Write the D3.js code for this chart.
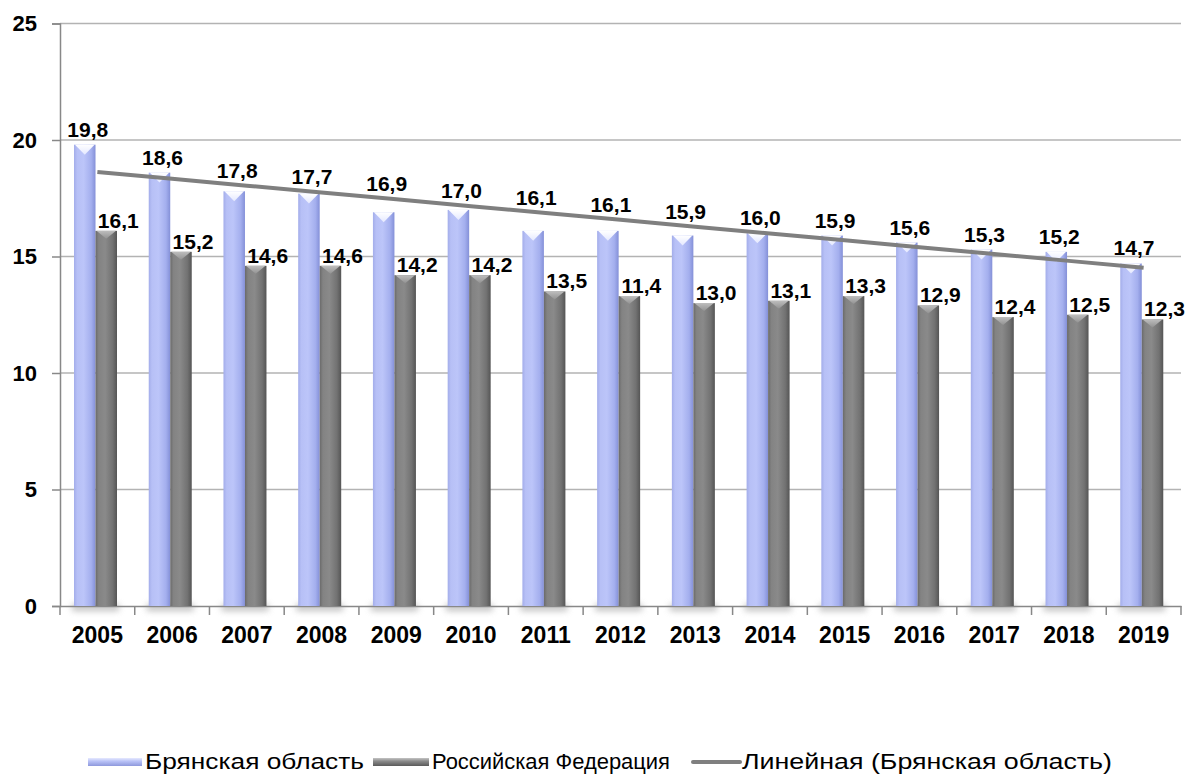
<!DOCTYPE html>
<html>
<head>
<meta charset="utf-8">
<script src="https://cdn.jsdelivr.net/npm/d3@7"></script>
<style>
  body { margin: 0; background: #fff; }
  svg { display: block; font-family: "Liberation Sans", Arial, sans-serif; }
</style>
</head>
<body>
<div id="chart"></div>
<script>
const years = ["2005","2006","2007","2008","2009","2010","2011","2012","2013","2014","2015","2016","2017","2018","2019"];
const bryansk = [19.8, 18.6, 17.8, 17.7, 16.9, 17.0, 16.1, 16.1, 15.9, 16.0, 15.9, 15.6, 15.3, 15.2, 14.7];
const russia = [16.1, 15.2, 14.6, 14.6, 14.2, 14.2, 13.5, 13.3, 13.0, 13.1, 13.3, 12.9, 12.4, 12.5, 12.3];
const russiaLabels = ["16,1","15,2","14,6","14,6","14,2","14,2","13,5","11,4","13,0","13,1","13,3","12,9","12,4","12,5","12,3"];
const yTicks = [0, 5, 10, 15, 20, 25];
const legendNames = ["Брянская область", "Российская Федерация", "Линейная (Брянская область)"];

const width = 1192, height = 775;
const plotLeft = 60, plotRight = 1181, plotTop = 23.5, plotBottom = 606;

const svg = d3.select("#chart").append("svg")
  .attr("width", width)
  .attr("height", height);

const defs = svg.append("defs");

function gradient(id, stops, x2, y2) {
  const g = defs.append("linearGradient").attr("id", id)
    .attr("x1", 0).attr("y1", 0).attr("x2", x2).attr("y2", y2);
  stops.forEach(s => g.append("stop").attr("offset", s[0]).attr("stop-color", s[1]));
}
gradient("gBr", [[0, "#a3adea"], [0.15, "#b7c0f6"], [0.45, "#bcc5f9"], [0.8, "#a4afee"], [1, "#8490d8"]], 1, 0);
gradient("gRu", [[0, "#6a6a6a"], [0.15, "#838383"], [0.45, "#8a8a8a"], [0.8, "#727272"], [1, "#555555"]], 1, 0);
gradient("gBrTop", [[0, "#ffffff"], [1, "#e4e8ff"]], 0, 1);
gradient("gRuTop", [[0, "#bdbdbd"], [1, "#929292"]], 0, 1);
gradient("gBrV", [[0, "#e6e9ff"], [0.4, "#b9c2f7"], [1, "#8e99dc"]], 0, 1);
gradient("gRuV", [[0, "#c4c4c4"], [0.4, "#8a8a8a"], [1, "#5a5a5a"]], 0, 1);

defs.append("filter").attr("id", "blur")
  .attr("x", "-50%").attr("y", "-200%").attr("width", "200%").attr("height", "500%")
  .append("feGaussianBlur").attr("stdDeviation", 3);

const x0 = d3.scaleBand().domain(years).range([plotLeft, plotRight]).padding(0);
const x1 = d3.scaleBand().domain([0, 1]).range([14, 57]);
const y = d3.scaleLinear().domain([0, 25]).range([plotBottom, plotTop]);

// линии сетки
svg.append("g")
  .selectAll("line")
  .data(yTicks.filter(d => d > 0))
  .join("line")
  .attr("x1", plotLeft).attr("x2", plotRight)
  .attr("y1", d => y(d)).attr("y2", d => y(d))
  .attr("stroke", "#b3b3b3").attr("stroke-width", 1.3);

// ось Y
const yAxis = svg.append("g")
  .attr("transform", `translate(${plotLeft},0)`)
  .call(d3.axisLeft(y).tickValues(yTicks).tickSize(8).tickPadding(15).tickFormat(d3.format("d")));
yAxis.select(".domain").attr("stroke", "#888").attr("stroke-width", 1.5);
yAxis.selectAll(".tick line").attr("stroke", "#888").attr("stroke-width", 1.5);
yAxis.selectAll(".tick text")
  .attr("font-size", 22).attr("font-weight", "bold").attr("fill", "#000")
  .attr("font-family", "Liberation Sans, Arial, sans-serif");

// тени под столбцами
svg.append("g")
  .selectAll("rect")
  .data(years)
  .join("rect")
  .attr("x", d => x0(d) + x1(0) - 2)
  .attr("y", plotBottom - 2)
  .attr("width", x1.bandwidth() * 2 + 4)
  .attr("height", 7)
  .attr("fill", "#9a9a9a")
  .attr("opacity", 0.6)
  .attr("filter", "url(#blur)");

// ось X
const xAxis = svg.append("g")
  .attr("transform", `translate(0,${plotBottom})`)
  .call(d3.axisBottom(x0).tickSize(0).tickPadding(21));
xAxis.select(".domain").attr("stroke", "#888").attr("stroke-width", 1.5);
xAxis.selectAll(".tick text")
  .attr("font-size", 23).attr("font-weight", "bold").attr("fill", "#000")
  .attr("font-family", "Liberation Sans, Arial, sans-serif");
xAxis.selectAll(".sep")
  .data(d3.range(years.length + 1))
  .join("line")
  .attr("class", "sep")
  .attr("x1", i => plotLeft + i * x0.bandwidth()).attr("x2", i => plotLeft + i * x0.bandwidth())
  .attr("y1", 0).attr("y2", 9)
  .attr("stroke", "#888").attr("stroke-width", 1.5);

// столбцы
function drawBars(values, idx, fill, topFill, bevel) {
  const g = svg.append("g");
  const w = x1.bandwidth();
  g.selectAll("rect")
    .data(values)
    .join("rect")
    .attr("x", (d, i) => x0(years[i]) + x1(idx))
    .attr("y", d => y(d))
    .attr("width", w)
    .attr("height", d => plotBottom - y(d))
    .attr("fill", fill);
  g.selectAll("path")
    .data(values)
    .join("path")
    .attr("d", (d, i) => {
      const bx = x0(years[i]) + x1(idx), by = y(d);
      return `M${bx + 1},${by}L${bx + w - 1},${by}L${bx + w / 2},${by + bevel}Z`;
    })
    .attr("fill", topFill);
}
drawBars(bryansk, 0, "url(#gBr)", "url(#gBrTop)", 10);
drawBars(russia, 1, "url(#gRu)", "url(#gRuTop)", 8);

// линейный тренд (Брянская область)
const xs = d3.range(bryansk.length);
const mx = d3.mean(xs), my = d3.mean(bryansk);
const slope = d3.sum(xs, i => (i - mx) * (bryansk[i] - my)) / d3.sum(xs, i => (i - mx) ** 2);
const intercept = my - slope * mx;
const trend = xs.map(i => intercept + slope * i);
const cx = i => x0(years[i]) + x0.bandwidth() / 2;

svg.append("path")
  .datum(xs)
  .attr("d", d3.line().x(i => cx(i)).y(i => y(trend[i])))
  .attr("fill", "none")
  .attr("stroke", "#7f7f7f")
  .attr("stroke-width", 4);

// подписи данных
const fmt = v => d3.format(".1f")(v).replace(".", ",");
svg.append("g")
  .selectAll("text")
  .data(bryansk)
  .join("text")
  .attr("x", (d, i) => x0(years[i]) + x1(0) + x1.bandwidth() / 2 + 3)
  .attr("y", (d, i) => Math.min(y(d), y(trend[i])) - 8)
  .attr("text-anchor", "middle")
  .attr("font-size", 21).attr("font-weight", "bold")
  .text(d => fmt(d));

svg.append("g")
  .selectAll("text")
  .data(russia)
  .join("text")
  .attr("x", (d, i) => x0(years[i]) + x1(1) + x1.bandwidth() / 2 + 12)
  .attr("y", d => y(d) - 3)
  .attr("text-anchor", "middle")
  .attr("font-size", 21).attr("font-weight", "bold")
  .text((d, i) => russiaLabels[i]);

// легенда
const legend = svg.append("g");
const legendItems = [
  { name: legendNames[0], sx: 88, tx: 145, tw: 219, fill: "url(#gBrV)" },
  { name: legendNames[1], sx: 373, tx: 432, tw: 238, fill: "url(#gRuV)" },
  { name: legendNames[2], sx: 693, tx: 742, tw: 370, line: true }
];

legendItems.forEach(it => {
  if (it.line) {
    legend.append("line")
      .attr("x1", it.sx).attr("x2", it.tx - 2)
      .attr("y1", 762).attr("y2", 762)
      .attr("stroke", "#7f7f7f").attr("stroke-width", 4)
      .attr("stroke-linecap", "round");
  } else {
    legend.append("rect")
      .attr("x", it.sx).attr("y", 758)
      .attr("width", it.tx - it.sx - 3).attr("height", 8)
      .attr("fill", it.fill);
  }
  legend.append("text")
    .attr("x", it.tx).attr("y", 769)
    .attr("font-size", 22)
    .attr("textLength", it.tw)
    .attr("lengthAdjust", "spacingAndGlyphs")
    .text(it.name);
});
</script>
</body>
</html>
